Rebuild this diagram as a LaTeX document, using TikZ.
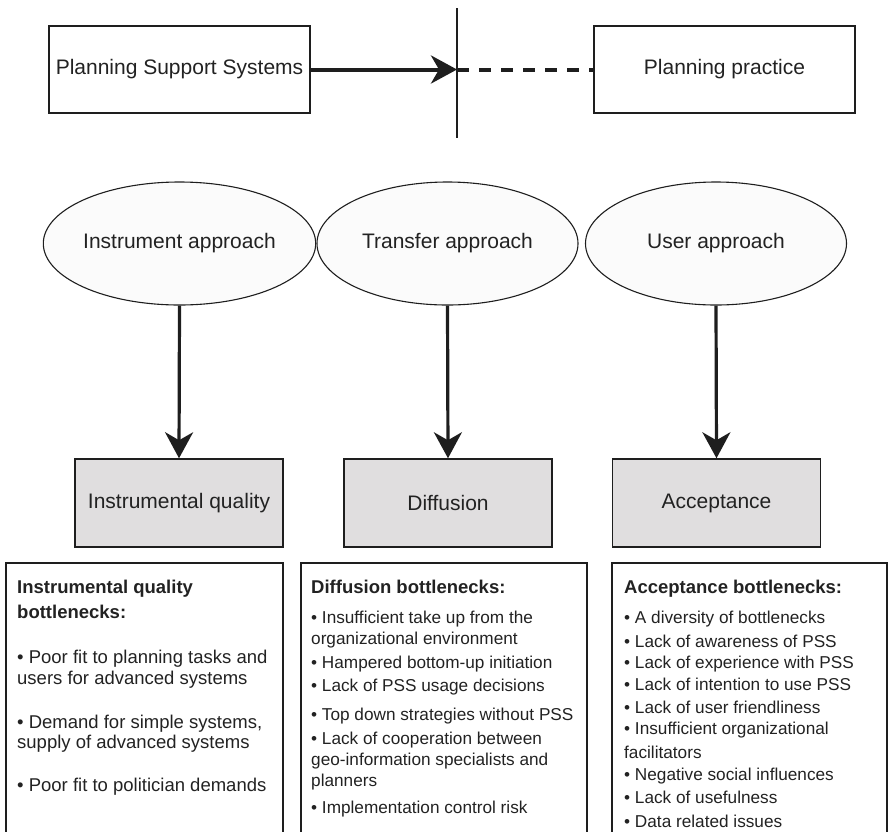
\documentclass[tikz,border=0pt]{standalone}
\usepackage{fontspec}
\setmainfont{Liberation Sans}
\usetikzlibrary{shapes.geometric,arrows.meta}
\definecolor{ink}{RGB}{30,30,30}
\definecolor{txt}{RGB}{34,34,34}
\definecolor{grayfill}{RGB}{224,222,223}
\definecolor{ellfill}{RGB}{251,251,251}
\tikzset{
  topbox/.style={draw=ink, line width=1.7pt, minimum width=261pt, minimum height=87pt, inner sep=0pt, font=\fontsize{21}{24}\selectfont, text=txt},
  approach/.style={ellipse, draw=ink, line width=1.1pt, fill=ellfill, minimum width=261pt, minimum height=123pt, inner sep=0pt, font=\fontsize{21}{24}\selectfont, text=txt},
  result/.style={draw=ink, line width=1.5pt, fill=grayfill, minimum width=208pt, minimum height=88pt, inner sep=0pt, font=\fontsize{21}{24}\selectfont, text=txt},
  listbox/.style={draw=ink, line width=1.4pt},
  bodytxt/.style={anchor=base west, inner sep=0pt, font=\fontsize{18.5}{21}\selectfont, text=txt},
  bodysmall/.style={anchor=base west, inner sep=0pt, font=\fontsize{17.2}{20}\selectfont, text=txt},
  bigarrow/.style={ink, line width=4pt, -{Stealth[length=26pt, width=28pt, inset=8pt]}},
  downarrow/.style={ink, line width=3.2pt, -{Stealth[length=26pt, width=28pt, inset=8pt]}},
}
\begin{document}
\begin{tikzpicture}[x=1pt, y=-1pt]
\useasboundingbox (0,0) rectangle (888,831);
\clip (0,0) rectangle (888,831);

% top row
\node[topbox] (pss) at (179.5,69.5) {Planning Support Systems};
\node[topbox] (pp) at (724.5,69.5) {Planning practice};
\coordinate (vtop) at (457,8);
\coordinate (vbot) at (457,138);
\coordinate (vmid) at (457,69.5);
\draw[ink, line width=1.7pt] (vtop) -- (vbot);
\draw[bigarrow] (pss.east) -- (vmid);
\draw[ink, line width=4pt, dash pattern=on 12pt off 10pt] (vmid) -- (pp.west);

% approaches
\node[approach] (e1) at (179.5,243.5) {Instrument approach};
\node[approach] (e2) at (447.5,243.5) {Transfer approach};
\node[approach] (e3) at (716,243.5) {User approach};

% results
\node[result] (g1) at (179,503) {Instrumental quality};
\node[result] (g2) at (448,503) {Diffusion};
\node[result] (g3) at (716.5,503) {Acceptance};

\draw[downarrow] (e1.south) -- (g1.north);
\draw[downarrow] (e2.south) -- (g2.north);
\draw[downarrow] (e3.south) -- (g3.north);

% bottleneck boxes (open at the bottom edge)
\draw[listbox] (6,850) -- (6,563) -- (283,563) -- (283,850);
\draw[listbox] (301,850) -- (301,563) -- (587,563) -- (587,850);
\draw[listbox] (612,850) -- (612,563) -- (887,563) -- (887,850);

\foreach [count=\i] \y/\t in {
  593/{\bfseries Instrumental quality},
  618/{\bfseries bottlenecks:},
  663/{• Poor fit to planning tasks and},
  684/{users for advanced systems},
  728/{• Demand for simple systems,},
  748/{supply of advanced systems},
  791/{• Poor fit to politician demands}}
  \node[bodytxt] (ta\i) at (17,\y) {\t};

\node[bodytxt] (tbh) at (311,593) {\bfseries Diffusion bottlenecks:};
\foreach [count=\i] \y/\t in {
  623/{• Insufficient take up from the},
  644/{organizational environment},
  668/{• Hampered bottom-up initiation},
  691/{• Lack of PSS usage decisions},
  720/{• Top down strategies without PSS},
  744/{• Lack of cooperation between},
  765/{geo-information specialists and},
  786/{planners},
  813/{• Implementation control risk}}
  \node[bodysmall] (tb\i) at (311,\y) {\t};

\node[bodytxt] (tch) at (624,593) {\bfseries Acceptance bottlenecks:};
\foreach [count=\i] \y/\t in {
  623/{• A diversity of bottlenecks},
  647/{• Lack of awareness of PSS},
  668/{• Lack of experience with PSS},
  690/{• Lack of intention to use PSS},
  713/{• Lack of user friendliness},
  734/{• Insufficient organizational},
  758/{facilitators},
  780/{• Negative social influences},
  803/{• Lack of usefulness},
  827/{• Data related issues}}
  \node[bodysmall] (tc\i) at (624,\y) {\t};
\end{tikzpicture}
\end{document}
